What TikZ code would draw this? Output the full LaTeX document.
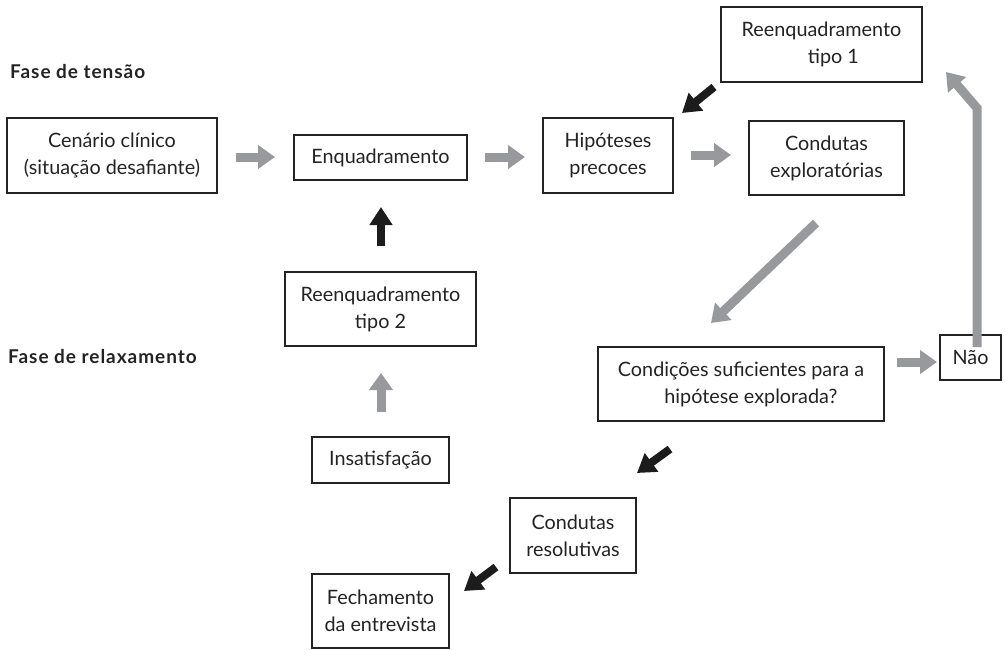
\documentclass[tikz,border=0pt]{standalone}
\usepackage{fontspec}
\setmainfont{Lato}
\newfontfamily\headfont[LetterSpace=5]{Lato}
\usetikzlibrary{arrows.meta}
\definecolor{arrgray}{RGB}{152,153,157}
\definecolor{arrblack}{RGB}{28,28,28}
\definecolor{ink}{RGB}{35,35,35}
\begin{document}
\begin{tikzpicture}[x=1pt,y=-1pt,
  box/.style={draw=ink, line width=1.1pt, text=ink, align=center, inner sep=0pt,
    font=\fontsize{19.8}{27}\selectfont},
  phase/.style={anchor=west, text=ink, font=\headfont\bfseries\fontsize{19}{22}\selectfont, inner sep=0pt},
  garrow/.style={draw=arrgray, line width=9pt, -{Triangle[length=17pt,width=23pt]}},
  karrow/.style={draw=arrblack, line width=8pt, -{Triangle[length=18pt,width=22pt]}}]
\useasboundingbox (0,0) rectangle (1005,649);

% phase headings
\node[phase] (tensao) at (10,72) {Fase de tensão};
\node[phase] (relax) at (8,357) {Fase de relaxamento};

% boxes
\node[box, minimum width=210pt, minimum height=75pt] (cen) at (112,155.5) {Cenário clínico\\(situação desafiante)};
\node[box, minimum width=173pt, minimum height=45pt] (enq) at (380.5,157.5) {Enquadramento};
\node[box, minimum width=130pt, minimum height=75pt] (hip) at (608,155.5) {Hipóteses\\precoces};
\node[box, minimum width=155pt, minimum height=74pt] (cex) at (826.5,158) {Condutas\\exploratórias};
\node[box, minimum width=201pt, minimum height=75pt] (re1) at (821.5,44.5) {Reenquadramento\\\hspace*{1.2em}tipo 1};
\node[box, minimum width=191pt, minimum height=74pt] (re2) at (380.5,309) {Reenquadramento\\tipo 2};
\node[box, minimum width=137pt, minimum height=46pt] (ins) at (380.5,460) {Insatisfação};
\node[box, minimum width=286pt, minimum height=74pt] (cond) at (741,384) {Condições suficientes para a\\\hspace*{1em}hipótese explorada?};
\node[box, minimum width=61pt, minimum height=45pt] (nao) at (970.5,357.5) {Não};
\node[box, minimum width=126pt, minimum height=75pt] (cres) at (573,535.5) {Condutas\\resolutivas};
\node[box, minimum width=137pt, minimum height=74pt] (fech) at (380.5,611) {Fechamento\\da entrevista};

% arrow end points
\coordinate (a1s) at (236,157); \coordinate (a1e) at (275,157);
\coordinate (a2s) at (485,157); \coordinate (a2e) at (525,157);
\coordinate (a3s) at (691,155); \coordinate (a3e) at (731,155);
\coordinate (b1s) at (714,87);  \coordinate (b1e) at (682,113);
\coordinate (a4s) at (816,223); \coordinate (a4e) at (711,323);
\coordinate (a5s) at (897,362); \coordinate (a5e) at (937,362);
\coordinate (a6s) at (977,347); \coordinate (a6m) at (977,108); \coordinate (a6e) at (946,72);
\coordinate (b2s) at (670,449); \coordinate (b2e) at (637,473);
\coordinate (b3s) at (496,567); \coordinate (b3e) at (464,591);
\coordinate (a7s) at (381,412); \coordinate (a7e) at (381,373);
\coordinate (b4s) at (381,246); \coordinate (b4e) at (381,207);

% gray flow arrows
\draw[garrow] (a1s) -- (a1e);
\draw[garrow] (a2s) -- (a2e);
\draw[garrow] (a3s) -- (a3e);
\draw[garrow] (a4s) -- (a4e);
\draw[garrow] (a5s) -- (a5e);
\draw[garrow, line join=miter] (a6s) -- (a6m) -- (a6e);
\draw[garrow] (a7s) -- (a7e);

% black arrows
\draw[karrow] (b1s) -- (b1e);
\draw[karrow] (b2s) -- (b2e);
\draw[karrow] (b3s) -- (b3e);
\draw[karrow] (b4s) -- (b4e);
\end{tikzpicture}
\end{document}
